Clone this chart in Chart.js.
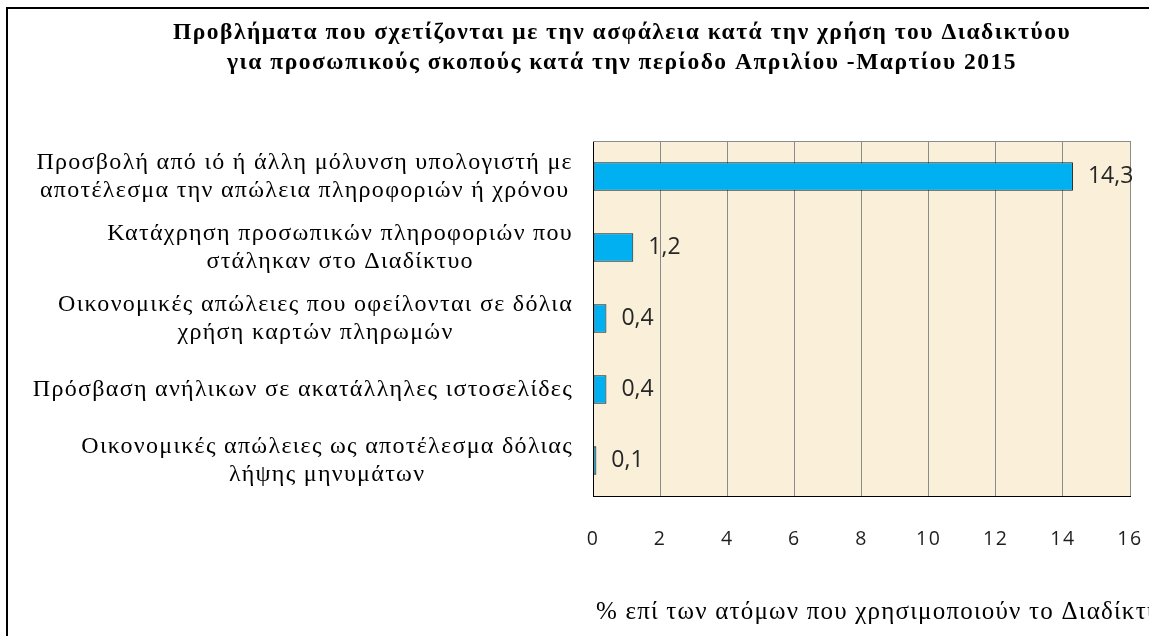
<!DOCTYPE html>
<html><head><meta charset="utf-8">
<script src="https://cdn.jsdelivr.net/npm/chart.js@4.4.1/dist/chart.umd.min.js"></script>
<style>
html,body{margin:0;padding:0;background:#fff;overflow:hidden;width:1149px;height:636px;}
#frame{position:absolute;left:6px;top:7px;width:1300px;height:800px;border:2px solid #000;box-sizing:border-box;}
#wrap{position:absolute;left:0;top:0;width:1149px;height:636px;}
</style></head><body>
<div id="frame"></div>
<div id="wrap"><canvas id="c" width="1149" height="636"></canvas></div>
<script>
const titleLines = [
  'Προβλήματα που σχετίζονται με την ασφάλεια κατά την χρήση του Διαδικτύου',
  'για προσωπικούς σκοπούς κατά την περίοδο Απριλίου -Μαρτίου 2015'
];
const categories = [
  ['Προσβολή από ιό ή άλλη μόλυνση υπολογιστή με', 'αποτέλεσμα την απώλεια πληροφοριών ή χρόνου'],
  ['Κατάχρηση προσωπικών πληροφοριών που', 'στάληκαν στο Διαδίκτυο'],
  ['Οικονομικές απώλειες που οφείλονται σε δόλια', 'χρήση καρτών πληρωμών'],
  ['Πρόσβαση ανήλικων σε ακατάλληλες ιστοσελίδες'],
  ['Οικονομικές απώλειες ως αποτέλεσμα δόλιας', 'λήψης μηνυμάτων']
];
const values = [14.3, 1.2, 0.4, 0.4, 0.1];
const axisMin = 0, axisMax = 16, axisStep = 2;
const axisTitle = '% επί των ατόμων που χρησιμοποιούν το Διαδίκτυο';
const fmt = v => v.toFixed(1).replace('.', ',');

const plotBg = {
  id: 'plotBg',
  beforeDraw(chart) {
    const {ctx, chartArea: a} = chart;
    ctx.save();
    ctx.fillStyle = '#FAF0DA';
    ctx.fillRect(a.left, a.top, a.right - a.left, a.bottom - a.top);
    ctx.restore();
    ctx.letterSpacing = '1.5px';
  },
  beforeDatasetsDraw(chart) {
    const {ctx, chartArea: a} = chart;
    ctx.letterSpacing = '0px';
    ctx.save();
    ctx.strokeStyle = '#8c8c8c';
    ctx.lineWidth = 1;
    ctx.beginPath();
    ctx.moveTo(a.left, Math.round(a.top) + 0.5);
    ctx.lineTo(a.right, Math.round(a.top) + 0.5);
    ctx.stroke();
    ctx.restore();
  }
};

const catLabels = {
  id: 'catLabels',
  afterDraw(chart) {
    const {ctx} = chart;
    const ys = chart.scales.y;
    const xs = chart.scales.x;
    ctx.save();
    ctx.font = '24px "Liberation Serif"';
    ctx.letterSpacing = '1.3px';
    ctx.fillStyle = '#000';
    ctx.textAlign = 'center';
    ctx.textBaseline = 'middle';
    const lh = 28;
    categories.forEach((lines, i) => {
      const w = Math.max(...lines.map(l => ctx.measureText(l).width));
      const cx = ys.right - 20 - w / 2;
      const cy = ys.getPixelForTick(i);
      lines.forEach((l, j) => ctx.fillText(l, cx, cy + (j - (lines.length - 1) / 2) * lh));
    });
    // x-axis title (drawn here so it is not squeezed to the scale width)
    ctx.font = '25px "Liberation Serif"';
    ctx.letterSpacing = '1.2px';
    ctx.textAlign = 'left';
    ctx.fillText(axisTitle, xs.left + 3, xs.bottom + 28.6);
    ctx.restore();
    ctx.letterSpacing = '0px';
  }
};

const dataLabels = {
  id: 'dataLabels',
  afterDatasetsDraw(chart) {
    const {ctx} = chart;
    const meta = chart.getDatasetMeta(0);
    ctx.save();
    ctx.letterSpacing = '0px';
    ctx.font = '23px "Open Sans"';
    ctx.fillStyle = '#262626';
    ctx.textAlign = 'left';
    ctx.textBaseline = 'middle';
    meta.data.forEach((bar, i) => ctx.fillText(fmt(values[i]), bar.x + 15, bar.y));
    ctx.restore();
  }
};

new Chart(document.getElementById('c'), {
  type: 'bar',
  data: {
    labels: categories,
    datasets: [{
      data: values,
      backgroundColor: '#00B0F0',
      borderColor: '#1a1a1a',
      borderWidth: 1,
      borderSkipped: false,
      barPercentage: 0.4,
      categoryPercentage: 1.0
    }]
  },
  options: {
    indexAxis: 'y',
    responsive: false,
    animation: false,
    devicePixelRatio: 1,
    layout: {padding: {left: 114, right: 19, top: 0, bottom: 52.6}},
    plugins: {
      legend: {display: false},
      tooltip: {enabled: false},
      title: {
        display: true,
        text: titleLines,
        color: '#000',
        font: {family: '"Liberation Serif"', size: 23.5, weight: 'bold', lineHeight: 1.3},
        padding: {top: 17.5, bottom: 62.4}
      }
    },
    scales: {
      x: {
        position: 'bottom',
        min: axisMin, max: axisMax,
        ticks: {stepSize: axisStep, color: '#1e1e1e', padding: 32,
          font: {family: '"Open Sans"', size: 19.5}},
        grid: {color: '#8c8c8c', lineWidth: 1, drawTicks: false},
        border: {color: '#000', width: 1},
        title: {display: false},
        afterFit(s) { s.paddingRight = 19; s.paddingLeft = 0; }
      },
      y: {
        ticks: {display: false},
        grid: {display: false},
        border: {display: true, color: '#000', width: 1},
        afterFit(s) { s.width = 479; }
      }
    }
  },
  plugins: [plotBg, catLabels, dataLabels]
});
</script>
</body></html>
